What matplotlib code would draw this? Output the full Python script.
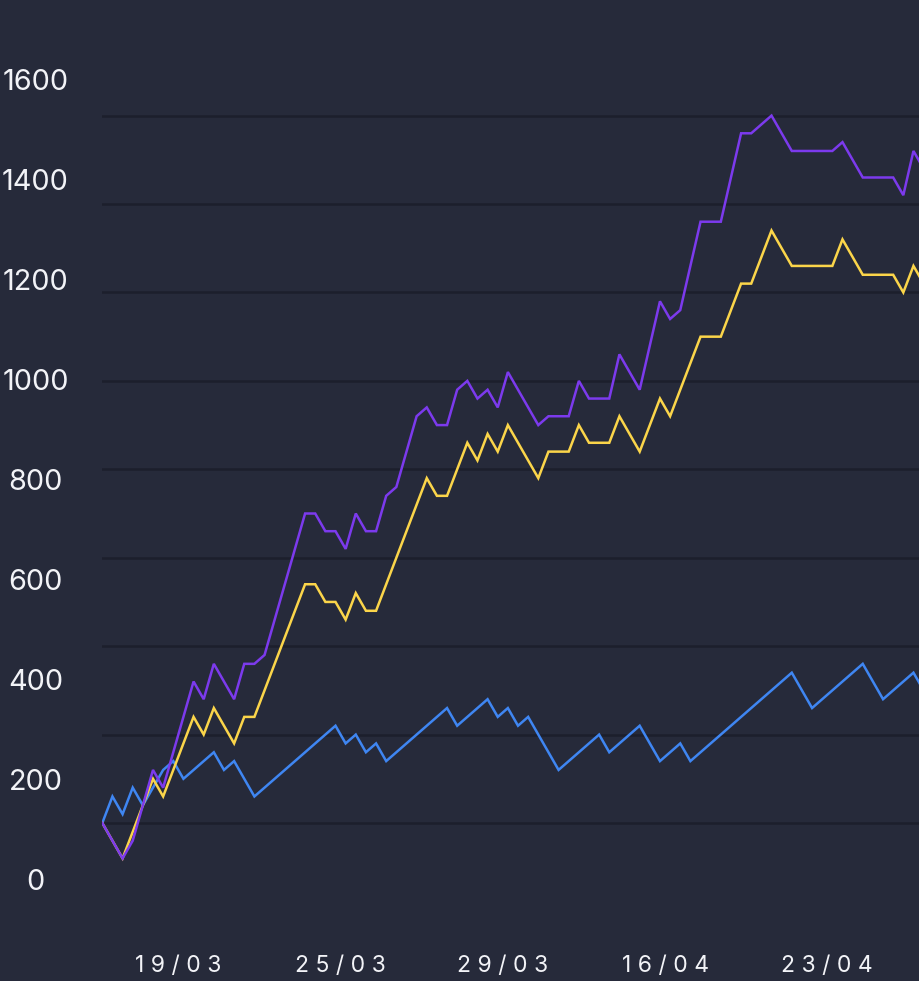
import matplotlib
matplotlib.use("Agg")
import matplotlib.pyplot as plt
from matplotlib.transforms import ScaledTranslation

# ---------------- data ----------------
purple_values = [0, -40, -80, -40, 40, 120, 80, 160, 240, 320, 280, 360, 320, 280, 360, 360,
                 380, 460, 540, 620, 700, 700, 660, 660, 620, 700, 660, 660, 740, 760, 840, 920,
                 940, 900, 900, 980, 1000, 960, 980, 940, 1020, 980, 940, 900, 920, 920, 920, 1000,
                 960, 960, 960, 1060, 1020, 980, 1080, 1180, 1140, 1160, 1260, 1360, 1360, 1360,
                 1460, 1560, 1560, 1580, 1600, 1560, 1520, 1520, 1520, 1520, 1520, 1540, 1500, 1460,
                 1460, 1460, 1460, 1420, 1520, 1480]
yellow_values = [0, -40, -80, -20, 40, 100, 60, 120, 180, 240, 200, 260, 220, 180, 240, 240,
                 300, 360, 420, 480, 540, 540, 500, 500, 460, 520, 480, 480, 540, 600, 660, 720,
                 780, 740, 740, 800, 860, 820, 880, 840, 900, 860, 820, 780, 840, 840, 840, 900,
                 860, 860, 860, 920, 880, 840, 900, 960, 920, 980, 1040, 1100, 1100, 1100,
                 1160, 1220, 1220, 1280, 1340, 1300, 1260, 1260, 1260, 1260, 1260, 1320, 1280, 1240,
                 1240, 1240, 1240, 1200, 1260, 1220]
blue_values = [0, 60, 20, 80, 40, 80, 120, 140, 100, 120, 140, 160, 120, 140, 100, 60,
               80, 100, 120, 140, 160, 180, 200, 220, 180, 200, 160, 180, 140, 160, 180, 200,
               220, 240, 260, 220, 240, 260, 280, 240, 260, 220, 240, 200, 160, 120, 140, 160,
               180, 200, 160, 180, 200, 220, 180, 140, 160, 180, 140, 160, 180, 200,
               220, 240, 260, 280, 300, 320, 340, 300, 260, 280, 300, 320, 340, 360,
               320, 280, 300, 320, 340, 300]

x_tick_idx = [8, 24, 40, 56, 72]
x_tick_labels = ["19/03", "25/03", "29/03", "16/04", "23/04"]
grid_values = [0, 200, 400, 600, 800, 1000, 1200, 1400, 1600]
y_tick_labels = ["0", "200", "400", "600", "800", "1000", "1200", "1400", "1600"]

# ---------------- style ----------------
BG = "#262a3a"
GRID = "#1c1f2c"
PURPLE = "#7c3aed"
YELLOW = "#fbd54a"
BLUE = "#3f86f2"
TEXT = "#f2f3f7"
FONT = ["Inter", "DejaVu Sans"]

W, H = 919, 981
fig = plt.figure(figsize=(W / 100, H / 100), dpi=100, facecolor=BG)

left_px, right_px = 102.3, 923.6
top_px, bottom_px = 0, 940
ax = fig.add_axes([left_px / W, (H - bottom_px) / H, (right_px - left_px) / W, (bottom_px - top_px) / H])
ax.set_facecolor(BG)

n = len(purple_values)
xs = list(range(n))

# data scale: value 0 at pixel 823, 0.442125 px per unit
px_per_unit = 0.442125
zero_px = 823
ax.set_ylim((zero_px - bottom_px) / px_per_unit, (zero_px - top_px) / px_per_unit)
ax.set_xlim(0, n - 1)

ax.plot(xs, blue_values, color=BLUE, lw=1.8, solid_joinstyle="miter", zorder=3)
ax.plot(xs, yellow_values, color=YELLOW, lw=1.8, solid_joinstyle="miter", zorder=4)
ax.plot(xs, purple_values, color=PURPLE, lw=1.8, solid_joinstyle="miter", zorder=5)

ax.set_yticks(grid_values)
ax.yaxis.grid(True, color=GRID, lw=1.8)
ax.xaxis.grid(False)
ax.set_axisbelow(True)
ax.tick_params(axis="y", length=0, labelleft=False, labelright=False)

ax.set_xticks(x_tick_idx)
ax.set_xticklabels([" ".join(list(s)) for s in x_tick_labels], fontsize=16.5,
                   color=TEXT, family=FONT)
ax.tick_params(axis="x", length=0, pad=10.5)
for lab in ax.get_xticklabels():
    lab.set_transform(lab.get_transform() + ScaledTranslation(-5 / 100, 0, fig.dpi_scale_trans))

for s in ax.spines.values():
    s.set_visible(False)

# label axis (labels spaced independently of the gridlines)
ax2 = ax.twinx()
label_zero_px = 880
label_px_per_unit = 0.5
ax2.set_ylim((label_zero_px - bottom_px) / label_px_per_unit, (label_zero_px - top_px) / label_px_per_unit)
ax2.set_yticks(grid_values)
ax2.set_yticklabels(y_tick_labels, fontsize=20.8, color=TEXT, family=FONT)
ax2.yaxis.set_ticks_position("left")
ax2.tick_params(axis="y", length=0, pad=48.1, labelleft=True, labelright=False)
for lab in ax2.get_yticklabels():
    lab.set_horizontalalignment("center")
for s in ax2.spines.values():
    s.set_visible(False)
ax2.patch.set_visible(False)

fig.savefig("out.png", dpi=100, facecolor=BG)
